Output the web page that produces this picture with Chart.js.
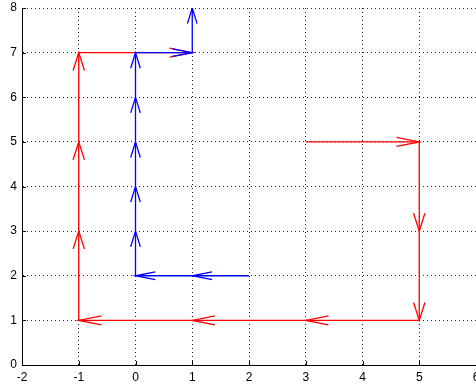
<!DOCTYPE html>
<html>
<head>
<meta charset="utf-8">
<script src="https://cdn.jsdelivr.net/npm/chart.js@4"></script>
<style>
  html, body { margin: 0; padding: 0; background: #fff; overflow: hidden; }
  #wrap { width: 476px; height: 385px; }
</style>
</head>
<body>
<div id="wrap"><canvas id="chart" width="476" height="385"></canvas></div>
<script>
// path vertices
const redX = [3, 5, 5, 5, 3, 1, -1, -1, -1, -1, 1];
const redY = [5, 5, 3, 1, 1, 1, 1, 3, 5, 7, 7];
const blueX = [2, 1, 0, 0, 0, 0, 0, 0, 1, 1];
const blueY = [2, 2, 2, 3, 4, 5, 6, 7, 7, 8];
const xTicks = [-2, -1, 0, 1, 2, 3, 4, 5, 6];
const yTicks = [0, 1, 2, 3, 4, 5, 6, 7, 8];

function pathPoints(xs, ys) {
  return xs.map((x, i) => ({ x: x, y: ys[i] }));
}

// open arrowheads (in data units) at the end of every segment
function arrowHeads(xs, ys, len, half) {
  const pts = [];
  for (let i = 1; i < xs.length; i++) {
    const dx = xs[i] - xs[i - 1], dy = ys[i] - ys[i - 1];
    const d = Math.hypot(dx, dy);
    const ux = dx / d, uy = dy / d;
    const bx = xs[i] - ux * len, by = ys[i] - uy * len;
    pts.push({ x: bx - uy * half, y: by + ux * half });
    pts.push({ x: xs[i], y: ys[i] });
    pts.push({ x: bx + uy * half, y: by - ux * half });
    pts.push({ x: null, y: null });
  }
  return pts;
}

// small inward tick marks like the original axes
const innerTicks = {
  id: 'innerTicks',
  afterDraw(chart) {
    const ctx = chart.ctx, a = chart.chartArea;
    const xs = chart.scales.x, ys = chart.scales.y;
    ctx.save();
    ctx.strokeStyle = '#000';
    ctx.lineWidth = 1;
    ctx.beginPath();
    xTicks.forEach(v => {
      const p = Math.round(xs.getPixelForValue(v)) + 0.5;
      ctx.moveTo(p, a.bottom); ctx.lineTo(p, a.bottom - 4);
    });
    yTicks.forEach(v => {
      const p = Math.round(ys.getPixelForValue(v)) + 0.5;
      ctx.moveTo(a.left, p); ctx.lineTo(a.left + 4, p);
    });
    ctx.stroke();
    ctx.restore();
  }
};

const lineStyle = { showLine: true, pointRadius: 0, borderWidth: 1.3, fill: false, spanGaps: false };

new Chart(document.getElementById('chart'), {
  type: 'scatter',
  data: {
    datasets: [
      Object.assign({ data: pathPoints(blueX, blueY), borderColor: '#0000ff', order: 1 }, lineStyle),
      Object.assign({ data: arrowHeads(blueX, blueY, 0.35, 0.085), borderColor: '#0000ff', order: 0 }, lineStyle),
      Object.assign({ data: pathPoints(redX, redY), borderColor: '#ff0000', order: 3 }, lineStyle),
      Object.assign({ data: arrowHeads(redX, redY, 0.4, 0.1), borderColor: '#ff0000', order: 2 }, lineStyle)
    ]
  },
  options: {
    responsive: false,
    animation: false,
    layout: { padding: { top: 8, right: 0, left: 0, bottom: 0 } },
    plugins: { legend: { display: false }, tooltip: { enabled: false } },
    scales: {
      x: {
        type: 'linear',
        min: -2, max: 6,
        afterBuildTicks(s) { s.ticks = xTicks.map(v => ({ value: v })); },
        afterFit(s) { s.height = 20; s.paddingLeft = 0; s.paddingRight = 0; },
        ticks: { color: '#000', padding: 5, font: { family: 'Liberation Sans, Arial', size: 12 } },
        grid: { color: '#222', drawTicks: false },
        border: { display: true, color: '#000', width: 1, dash: [1, 3] }
      },
      y: {
        type: 'linear',
        min: 0, max: 8,
        afterBuildTicks(s) { s.ticks = yTicks.map(v => ({ value: v })); },
        afterFit(s) { s.width = 22; s.paddingTop = 0; s.paddingBottom = 0; },
        ticks: { color: '#000', padding: 5, font: { family: 'Liberation Sans, Arial', size: 12 } },
        grid: { color: '#222', drawTicks: false },
        border: { display: true, color: '#000', width: 1, dash: [1, 3] }
      }
    }
  },
  plugins: [innerTicks]
});
</script>
</body>
</html>
